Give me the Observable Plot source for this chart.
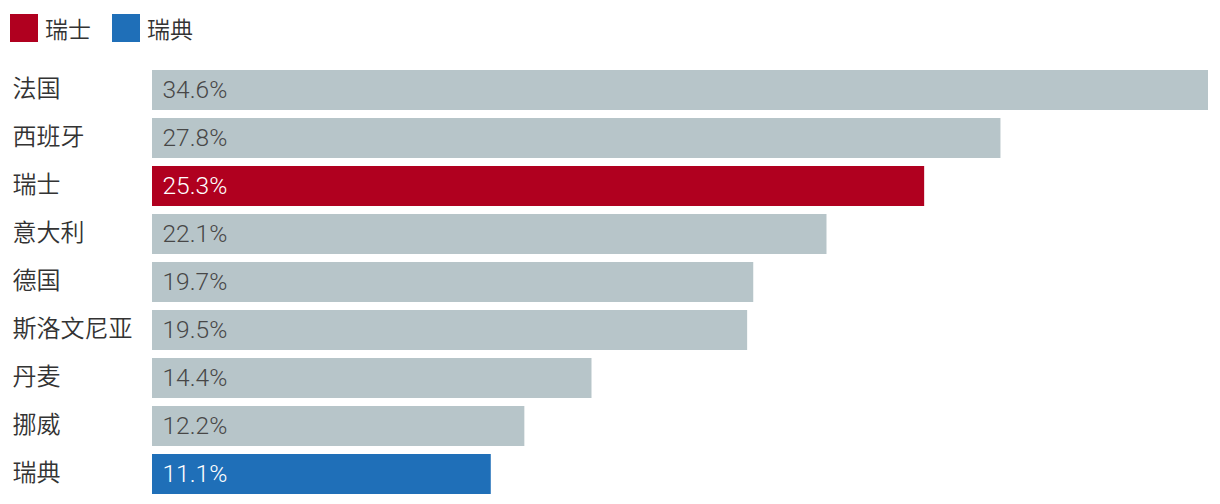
<!DOCTYPE html>
<html>
<head>
<meta charset="utf-8">
<script src="https://cdn.jsdelivr.net/npm/d3@7"></script>
<script src="https://cdn.jsdelivr.net/npm/@observablehq/plot@0.6"></script>
<style>
  html, body { margin: 0; padding: 0; background: #fff; }
  body { width: 1220px; height: 504px; overflow: hidden; font-family: "Noto Sans CJK SC", sans-serif; }
  #legend { height: 56px; position: relative; }
  .key { position: absolute; top: 14px; height: 28px; line-height: 28px; display: flex; align-items: center; font-size: 23px; color: #333; font-weight: 350; }
  .sw { width: 28px; height: 28px; margin-right: 7px; }
  svg { display: block; }
</style>
</head>
<body>
<div id="legend"></div>
<div id="chart"></div>
<script>
const countries = ["法国", "西班牙", "瑞士", "意大利", "德国", "斯洛文尼亚", "丹麦", "挪威", "瑞典"];
const values = [34.6, 27.8, 25.3, 22.1, 19.7, 19.5, 14.4, 12.2, 11.1];
const highlight = {"瑞士": "#b0001f", "瑞典": "#1f6fb8"};
const legendItems = ["瑞士", "瑞典"];
const greyColor = "#b7c5c9";

const data = countries.map((c, i) => ({country: c, value: values[i], label: values[i].toFixed(1) + "%"}));

// legend
const legend = document.getElementById("legend");
const legendX = [10, 112];
legendItems.forEach((name, i) => {
  const k = document.createElement("div");
  k.className = "key";
  k.style.left = legendX[i] + "px";
  k.innerHTML = `<div class="sw" style="background:${highlight[name]}"></div><span>${name}</span>`;
  legend.appendChild(k);
});

const chart = Plot.plot({
  width: 1220,
  height: 448,
  marginTop: 14,
  marginBottom: 10,
  marginLeft: 152,
  marginRight: 12,
  style: {fontFamily: "'Noto Sans CJK SC', sans-serif", background: "transparent"},
  x: {domain: [0, 34.6], axis: null},
  y: {domain: countries, axis: null, paddingInner: 1/6, paddingOuter: 0},
  marks: [
    Plot.barX(data, {y: "country", x: "value", fill: d => highlight[d.country] || greyColor}),
    Plot.text(data, {
      y: "country", text: "label", frameAnchor: "left", textAnchor: "start", dx: 10, dy: 0,
      fill: d => highlight[d.country] ? "#ffffff" : "#474747",
      fontSize: 24.5, fontWeight: 300, fontFamily: "Roboto, 'Noto Sans CJK SC', sans-serif"
    }),
    Plot.text(data, {
      y: "country", text: "country", frameAnchor: "left", textAnchor: "start", dx: -140, dy: -1,
      fill: "#333333", fontSize: 24, fontWeight: 350
    })
  ]
});
document.getElementById("chart").appendChild(chart);
</script>
</body>
</html>
